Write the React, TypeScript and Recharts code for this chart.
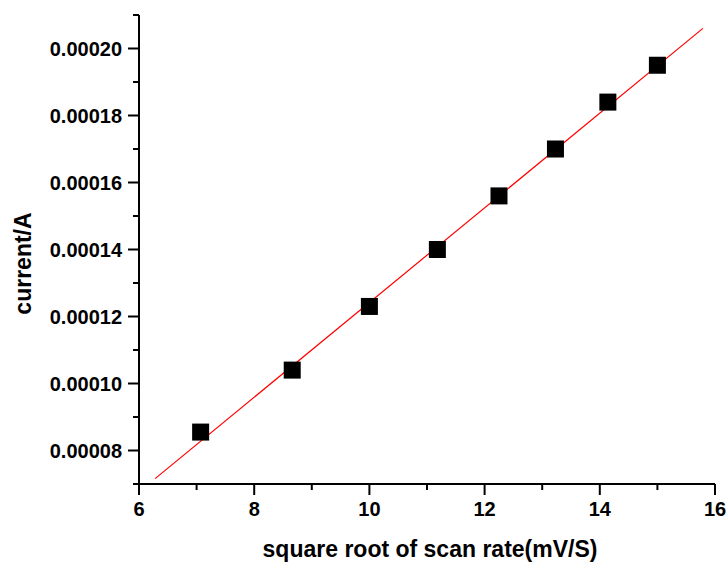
import React from 'react';
import { ScatterChart, Scatter, XAxis, YAxis } from 'recharts';

// square root of scan rate vs. peak current
const sqrtScanRate = [7.07, 8.66, 10.0, 11.18, 12.25, 13.23, 14.14, 15.0];
const peakCurrent = [0.0000855, 0.000104, 0.000123, 0.00014, 0.000156, 0.00017, 0.000184, 0.000195];

// linear fit, end points
const fitX = [6.28, 15.79];
const fitY = [0.0000716, 0.000206];

const xTicks = [6, 7, 8, 9, 10, 11, 12, 13, 14, 15, 16];
const yTicks = [
  0.00007, 0.00008, 0.00009, 0.0001, 0.00011, 0.00012, 0.00013, 0.00014,
  0.00015, 0.00016, 0.00017, 0.00018, 0.00019, 0.0002, 0.00021,
];

const points = sqrtScanRate.map((x, i) => ({ x, y: peakCurrent[i] }));
const fitLine = fitX.map((x, i) => ({ x, y: fitY[i] }));

const FONT = 'Liberation Sans, Arial, sans-serif';
const TICK_SIZE = 10;
const TICK_MARGIN = 8;

const XTick = (props: any) => {
  const { x, y, payload } = props;
  const v = payload.value;
  const major = Math.round(v) % 2 === 0;
  const axisY = y - TICK_SIZE - TICK_MARGIN;
  return (
    <g>
      <line x1={x} x2={x} y1={axisY} y2={axisY + (major ? 11 : 6)} stroke="#000" strokeWidth={2} />
      {major && (
        <text x={x} y={y} dy="0.71em" textAnchor="middle" fontFamily={FONT} fontWeight="bold" fontSize={20} fill="#000">
          {v}
        </text>
      )}
    </g>
  );
};

const YTick = (props: any) => {
  const { x, y, payload } = props;
  const v = payload.value;
  const major = Math.round(v * 1e5) % 2 === 0;
  const axisX = x + TICK_SIZE + TICK_MARGIN;
  return (
    <g>
      <line x1={axisX - (major ? 11 : 6)} x2={axisX} y1={y} y2={y} stroke="#000" strokeWidth={2} />
      {major && (
        <text x={x + 1} y={y} dy="0.36em" textAnchor="end" fontFamily={FONT} fontWeight="bold" fontSize={20} fill="#000">
          {v.toFixed(5)}
        </text>
      )}
    </g>
  );
};

const YLabel = (props: any) => {
  const { viewBox } = props;
  const cx = viewBox.x + 23;
  const cy = viewBox.y + viewBox.height / 2 + 14;
  return (
    <text
      x={cx}
      y={cy}
      transform={`rotate(-90, ${cx}, ${cy})`}
      dy="0.36em"
      textAnchor="middle"
      fontFamily={FONT}
      fontWeight="bold"
      fontSize={23}
      fill="#000"
    >
      current/A
    </text>
  );
};

const SquareMarker = (props: any) => {
  const { cx, cy } = props;
  return <rect x={cx - 8.5} y={cy - 8.5} width={17} height={17} fill="#000" />;
};

export default function App() {
  return (
    <div style={{ position: 'absolute', left: 0, top: 0, background: '#fff' }}>
      <ScatterChart width={727} height={563} margin={{ top: 15, right: 12, left: 0, bottom: 0 }}>
        <XAxis
          type="number"
          dataKey="x"
          domain={[6, 16]}
          ticks={xTicks}
          interval={0}
          allowDataOverflow
          height={79}
          tickSize={TICK_SIZE}
          tickMargin={TICK_MARGIN}
          tickLine={false}
          axisLine={{ stroke: '#000', strokeWidth: 2 }}
          tick={<XTick />}
          label={{
            value: 'square root of scan rate(mV/S)',
            position: 'insideBottom',
            offset: 6,
            dx: 3,
            style: { fontFamily: FONT, fontWeight: 'bold', fontSize: 23, fill: '#000' },
          }}
        />
        <YAxis
          type="number"
          dataKey="y"
          domain={[0.00007, 0.00021]}
          ticks={yTicks}
          interval={0}
          allowDataOverflow
          width={139}
          tickSize={TICK_SIZE}
          tickMargin={TICK_MARGIN}
          tickLine={false}
          axisLine={{ stroke: '#000', strokeWidth: 2 }}
          tick={<YTick />}
          label={<YLabel />}
        />
        <Scatter
          data={fitLine}
          line={{ stroke: '#ff0000', strokeWidth: 1.2 }}
          shape={() => null}
          isAnimationActive={false}
        />
        <Scatter data={points} shape={<SquareMarker />} isAnimationActive={false} />
      </ScatterChart>
    </div>
  );
}
